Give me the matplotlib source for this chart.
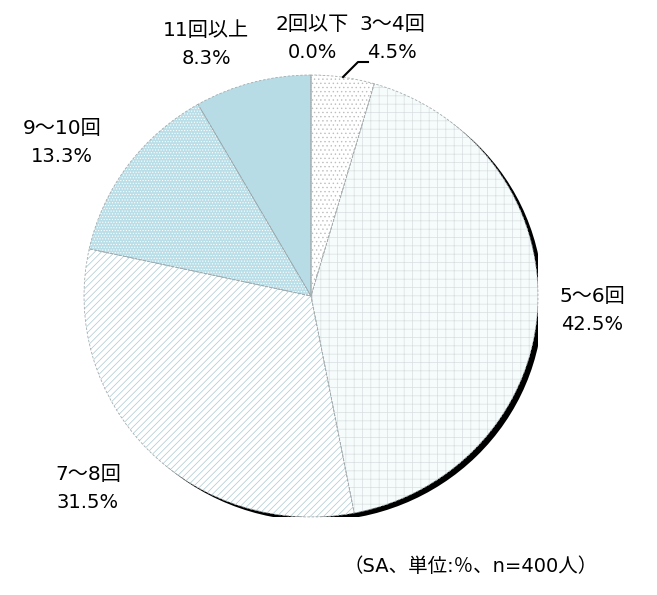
import matplotlib.pyplot as plt
from matplotlib.patches import Ellipse

plt.rcParams['font.family'] = ['DejaVu Sans', 'Noto Sans CJK JP']
plt.rcParams['hatch.linewidth'] = 0.5

# data
categories = ['2回以下', '3～4回', '5～6回', '7～8回', '9～10回', '11回以上']
shares = [0.0, 4.5, 42.5, 31.5, 13.3, 8.3]
note = '（SA、単位:％、n=400人）'

# styles per slice: facecolor, hatch, hatch colour
styles = [
    ('white', '', 'white'),
    ('white', '....', '#bdbdbd'),
    ('#f6fbfc', '++', '#d9dfe0'),
    ('white', '/////', '#a9c9d1'),
    ('#b9dee7', '......', 'white'),
    ('#b7dce5', '', '#b7dce5'),
]

# label placement in pixels (x, y of first line centre)
label_pos = [(312, 24), (392, 24), (592, 297), (88, 475), (62, 128), (206, 30)]

W, H = 657, 595
cx, cy, rx, ry = 311, 296, 227, 221

fig = plt.figure(figsize=(W / 100, H / 100), dpi=100)
ax = fig.add_axes([(cx - rx) / W, (H - cy - ry) / H, 2 * rx / W, 2 * ry / H])

# shadow
ax.add_patch(Ellipse((5 / rx, -4 / ry), 2, 2, facecolor='black', edgecolor='none', zorder=0))

wedges, _ = ax.pie(shares, startangle=90, counterclock=False, radius=1,
                   wedgeprops=dict(linewidth=0))
for w, (fc, hatch, hc) in zip(wedges, styles):
    w.set_facecolor(fc)
    w.set_edgecolor(hc)
    w.set_hatch(hatch)
    w.set_zorder(1)

# slice borders
wb, _ = ax.pie(shares, startangle=90, counterclock=False, radius=1,
               wedgeprops=dict(facecolor='none', edgecolor='#a3adb0',
                               linewidth=0.6, linestyle=(0, (3, 2))))
for w in wb:
    w.set_zorder(2)

ax.set_aspect('auto')
ax.set_xlim(-1, 1)
ax.set_ylim(-1, 1)
ax.axis('off')

# labels
for cat, val, (px, py) in zip(categories, shares, label_pos):
    fig.text(px / W, 1 - py / H, cat, ha='center', va='center', fontsize=14.5)
    fig.text(px / W, 1 - (py + 28) / H, f'{val:.1f}%', ha='center', va='center', fontsize=14)

# leader line for 3～4回
fig.add_artist(plt.Line2D([343 / W, 358 / W, 368 / W],
                          [1 - 77 / H, 1 - 62 / H, 1 - 62 / H],
                          color='black', linewidth=1.5))

fig.text(598 / W, 1 - 566 / H, note, ha='right', va='center', fontsize=14)

fig.savefig('out.png', dpi=100)
